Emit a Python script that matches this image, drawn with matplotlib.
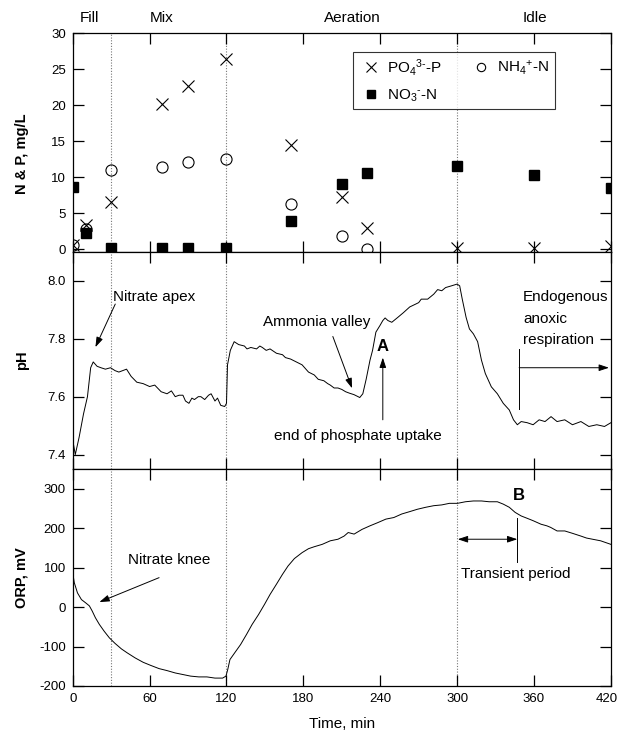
import matplotlib
matplotlib.use("Agg")
import matplotlib.pyplot as plt
import matplotlib.transforms as mtransforms
from matplotlib.lines import Line2D

plt.rcParams['font.family'] = ['Liberation Sans', 'DejaVu Sans']
plt.rcParams['mathtext.fontset'] = 'custom'
plt.rcParams['mathtext.rm'] = 'Liberation Sans'
plt.rcParams['mathtext.it'] = 'Liberation Sans'
plt.rcParams['axes.unicode_minus'] = False

# ---------------- data ----------------
sample_t = [0, 10, 30, 70, 90, 120, 170, 210, 230, 300, 360, 420]
po4 = [0.6, 3.4, 6.5, 20.2, 22.7, 26.4, 14.5, 7.3, 2.9, 0.2, 0.2, 0.4]
nh4_t = [0, 10, 30, 70, 90, 120, 170, 210, 230]
nh4 = [0.6, 2.8, 11.0, 11.4, 12.1, 12.5, 6.3, 1.8, 0.0]
no3 = [8.6, 2.3, 0.1, 0.1, 0.1, 0.1, 3.9, 9.1, 10.6, 11.5, 10.3, 8.5]

ph_t = [0, 2, 5, 8.4, 11.5, 14, 16, 19, 22, 25.5, 29.5, 33, 36, 39, 42, 45.6,
        50, 55, 60, 64, 69, 73.6, 77, 80, 83, 86, 88, 90.7, 93, 95, 98, 100,
        103, 106, 108, 111, 113, 115.5, 118.6, 120, 120.8, 123, 126, 129.5,
        134, 136, 139, 143.5, 146, 148, 151, 154, 159, 163.7, 166, 170, 174.5,
        179, 184, 188.5, 191.6, 196, 199, 201, 204, 207, 210, 213, 216, 219.5,
        222.7, 224, 226.4, 229, 232, 234, 236.6, 239.8, 242, 243.8, 246, 249,
        253.7, 258, 263, 267.7, 270, 272, 277, 281.7, 284.8, 288, 291, 295.6,
        300, 302, 304, 307, 309.6, 312.7, 316, 319, 322, 326.7, 331.4, 336,
        340.7, 344, 347, 350, 354.7, 359.3, 364, 368.6, 373.3, 378, 384, 390,
        396.6, 402.8, 409, 415, 420]
ph = [7.45, 7.40, 7.46, 7.54, 7.60, 7.70, 7.72, 7.705, 7.70, 7.695, 7.70, 7.69,
      7.685, 7.69, 7.695, 7.67, 7.65, 7.645, 7.635, 7.64, 7.617, 7.61, 7.62,
      7.60, 7.605, 7.605, 7.585, 7.577, 7.595, 7.59, 7.60, 7.60, 7.59, 7.605,
      7.61, 7.585, 7.595, 7.57, 7.566, 7.577, 7.71, 7.76, 7.79, 7.78, 7.775,
      7.765, 7.77, 7.765, 7.775, 7.77, 7.76, 7.765, 7.75, 7.745, 7.735, 7.73,
      7.72, 7.71, 7.685, 7.675, 7.66, 7.655, 7.645, 7.64, 7.63, 7.63, 7.625,
      7.617, 7.612, 7.607, 7.60, 7.597, 7.61, 7.66, 7.726, 7.76, 7.823, 7.846,
      7.863, 7.872, 7.863, 7.857, 7.874, 7.89, 7.91, 7.92, 7.925, 7.937, 7.937,
      7.954, 7.97, 7.966, 7.977, 7.983, 7.989, 7.983, 7.937, 7.874, 7.834,
      7.817, 7.79, 7.726, 7.68, 7.634, 7.61, 7.577, 7.554, 7.52, 7.503, 7.514,
      7.51, 7.503, 7.52, 7.514, 7.531, 7.514, 7.52, 7.503, 7.514, 7.497,
      7.503, 7.497, 7.51]

orp_t = [0, 1.2, 3.7, 6.8, 10, 13, 15.2, 17.7, 20.8, 24.5, 28.6, 33, 38, 42.5,
         48.8, 55, 61, 67.4, 73.6, 80, 86, 92, 98.4, 104.7, 111, 117, 119.6,
         121, 122.7, 126.4, 131, 135.7, 140, 145, 149.7, 154, 159, 163.7, 168,
         173, 179, 184, 188.5, 194.7, 201, 207, 211.8, 215, 219.6, 225.8, 232,
         238, 244.4, 250.6, 256.8, 263, 269, 275.5, 281.7, 288, 294, 300.3,
         306.5, 312.7, 319, 325, 331.4, 336, 340.7, 345.3, 350, 354.7, 359.3,
         365.5, 370, 373, 378, 384, 390, 396.6, 401, 405.7, 412, 420]
orp = [87, 62, 36, 19, 11, 3, -10, -27, -44, -61, -78, -92, -106, -116, -129,
       -140, -148, -156, -161, -167, -171, -175, -177, -177, -180, -180, -175,
       -158, -133, -116, -95, -69, -44, -19, 7, 32, 58, 83, 104, 123, 138, 148,
       153, 159, 168, 172, 180, 189, 185, 197, 206, 214, 223, 227, 236, 242,
       248, 253, 257, 259, 263, 263, 267, 269, 269, 267, 267, 261, 253, 240,
       231, 225, 219, 210, 206, 202, 193, 193, 187, 180, 175, 172, 168, 159]

phase_names = ["Fill", "Mix", "Aeration", "Idle"]
phase_pos = [12.8, 69, 218.5, 360.5]
phase_bounds = [30, 120, 300]
x_ticks = [0, 60, 120, 180, 240, 300, 360, 420]

# ---------------- figure ----------------
fig = plt.figure(figsize=(6.2, 7.4), dpi=100)
L, W = 0.1173, 0.868
ax1 = fig.add_axes([L, 0.6595, W, 0.2959])
ax2 = fig.add_axes([L, 0.3662, W, 0.2933])
ax3 = fig.add_axes([L, 0.0730, W, 0.2932])

TFS = 9.5    # tick labels
FS = 11      # annotations
LFS = 10.5   # axis labels
for ax in (ax1, ax2, ax3):
    ax.set_xlim(0, 420)
    ax.set_xticks(x_ticks)
    ax.tick_params(direction='in', length=8, width=0.9, top=True, right=True,
                   labelsize=TFS, pad=5)
    for s in ax.spines.values():
        s.set_linewidth(0.9)
    for b in phase_bounds:
        ax.axvline(b, color='#777777', linestyle=(0, (1, 1.5)), linewidth=0.8,
                   zorder=0)
    ax.yaxis.set_label_coords(-0.082, 0.5)
ax1.tick_params(labelbottom=False)
ax2.tick_params(labelbottom=False)

# ---- top panel ----
ax1.set_ylim(-0.4, 30)
ax1.set_yticks([0, 5, 10, 15, 20, 25, 30])
ax1.plot(sample_t, po4, linestyle='none', marker='x', color='black',
         markersize=8, markeredgewidth=0.8)
ax1.plot(nh4_t, nh4, linestyle='none', marker='o', markerfacecolor='none',
         markeredgecolor='black', markersize=8, markeredgewidth=0.8)
ax1.plot(sample_t, no3, linestyle='none', marker='s', color='black',
         markersize=7)
ax1.set_ylabel("N & P, mg/L", fontsize=LFS, fontweight='bold')
ax1.yaxis.set_label_coords(-0.082, 0.45)
for name, p in zip(phase_names, phase_pos):
    ax1.text(p, 32.1, name, ha='center', va='center', fontsize=FS, clip_on=False)

h_po4 = Line2D([], [], linestyle='none', marker='x', color='black',
               markersize=7, markeredgewidth=0.8)
h_nh4 = Line2D([], [], linestyle='none', marker='o', markerfacecolor='none',
               markeredgecolor='black', markersize=6, markeredgewidth=0.8)
h_no3 = Line2D([], [], linestyle='none', marker='s', color='black',
               markersize=6)
leg = ax1.legend([h_po4, h_no3, h_nh4],
                 [r"PO$_4$$^{3\text{-}}$-P", r"NO$_3$$^{\text{-}}$-N",
                  r"NH$_4$$^{+}$-N"],
                 ncol=2, loc='upper left', bbox_to_anchor=(0.521, 0.915),
                 frameon=True, fancybox=False, edgecolor='black', fontsize=FS,
                 handlelength=1.6, handletextpad=0.3, columnspacing=1.7,
                 borderpad=0.35, labelspacing=0.6, borderaxespad=0)
leg.get_frame().set_linewidth(0.8)

# ---- middle panel ----
ax2.set_ylim(7.35, 8.1)
ax2.set_yticks([7.4, 7.6, 7.8, 8.0])
ax2.set_yticklabels(["7.4", "7.6", "7.8", "8.0"])
ax2.plot(ph_t, ph, color='black', linewidth=0.7)
ax2.set_ylabel("pH", fontsize=LFS, fontweight='bold')
arr = dict(arrowstyle='-|>,head_length=0.6,head_width=0.2', color='black',
           linewidth=0.7, shrinkA=0, shrinkB=0)
ax2.text(31.7, 7.943, "Nitrate apex", fontsize=FS, va='center', ha='left')
ax2.annotate("", xy=(17.7, 7.771), xytext=(33.2, 7.92), arrowprops=arr)
ax2.text(148.5, 7.857, "Ammonia valley", fontsize=FS, va='center', ha='left')
ax2.annotate("", xy=(218, 7.629), xytext=(203, 7.808), arrowprops=arr)
ax2.text(241.5, 7.774, "A", fontsize=FS + 1, fontweight='bold', ha='center',
         va='center')
ax2.annotate("", xy=(242, 7.735), xytext=(242, 7.52), arrowprops=arr)
ax2.text(222.7, 7.463, "end of phosphate uptake", fontsize=FS, ha='center',
         va='center')
ax2.text(351.5, 7.943, "Endogenous", fontsize=FS, va='center', ha='left')
ax2.text(351.5, 7.869, "anoxic", fontsize=FS, va='center', ha='left')
ax2.text(351.5, 7.797, "respiration", fontsize=FS, va='center', ha='left')
ax2.plot([348.4, 348.4], [7.766, 7.556], color='black', linewidth=0.7)
ax2.annotate("", xy=(418.5, 7.70), xytext=(348.4, 7.70), arrowprops=arr)

# ---- bottom panel ----
ax3.set_ylim(-200, 350)
ax3.set_yticks([-200, -100, 0, 100, 200, 300])
ax3.plot(orp_t, orp, color='black', linewidth=0.7)
ax3.set_ylabel("ORP, mV", fontsize=LFS, fontweight='bold')
ax3.set_xlabel("Time, min", fontsize=FS, labelpad=9)
ax3.text(43.2, 118.6, "Nitrate knee", fontsize=FS, va='center', ha='left')
ax3.annotate("", xy=(20.8, 12.7), xytext=(67.4, 74.6), arrowprops=arr)
ax3.text(348.4, 282, "B", fontsize=FS + 1, fontweight='bold', ha='center',
         va='center')
ax3.plot([347, 347], [227, 114], color='black', linewidth=0.7)
darr = dict(arrowstyle='<|-|>,head_length=0.6,head_width=0.2', color='black',
            linewidth=0.7, shrinkA=0, shrinkB=0)
ax3.annotate("", xy=(347, 172), xytext=(300.5, 172), arrowprops=darr)
ax3.text(303, 83, "Transient period", fontsize=FS, va='center', ha='left')

# keep the last x tick label inside the canvas
last = ax3.get_xticklabels()[-1]
last.set_transform(last.get_transform() +
                   mtransforms.ScaledTranslation(-4 / 100, 0, fig.dpi_scale_trans))

fig.savefig("out.png", dpi=100)
